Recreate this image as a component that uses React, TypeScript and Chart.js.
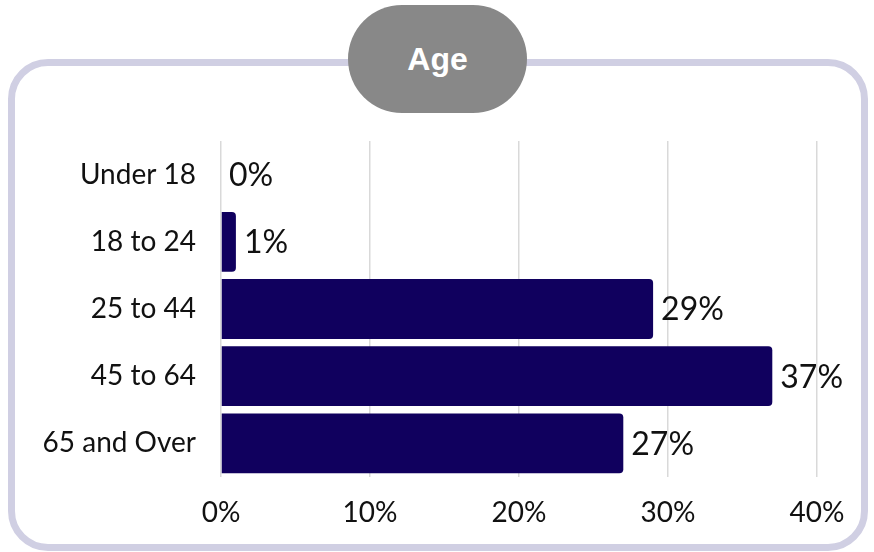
import React, { useEffect, useRef } from "react";
import { Chart, registerables } from "chart.js";

Chart.register(...registerables);

const categories = ["Under 18", "18 to 24", "25 to 44", "45 to 64", "65 and Over"];
const values = [0, 1, 29, 37, 27];
const tickValues = [0, 10, 20, 30, 40];
const title = "Age";

const FONT = "Lato, 'Noto Sans', sans-serif";

const dataLabelPlugin = {
  id: "dataLabels",
  afterDatasetsDraw(chart: any) {
    const ctx = chart.ctx;
    const meta = chart.getDatasetMeta(0);
    ctx.save();
    ctx.font = `32px ${FONT}`;
    ctx.fillStyle = "#111111";
    ctx.textAlign = "left";
    ctx.textBaseline = "middle";
    meta.data.forEach((bar: any, i: number) => {
      ctx.fillText(`${values[i]}%`, bar.x + 8, bar.y + 1);
    });
    ctx.restore();
  },
};

export default function App() {
  const ref = useRef<HTMLCanvasElement>(null);
  useEffect(() => {
    document.body.style.margin = "0";
    if (!ref.current) return;
    const chart = new Chart(ref.current, {
      type: "bar",
      data: {
        labels: categories,
        datasets: [
          {
            data: values,
            backgroundColor: "#10005e",
            borderRadius: 4,
            barPercentage: 0.89,
            categoryPercentage: 1,
          },
        ],
      },
      options: {
        indexAxis: "y",
        animation: false,
        responsive: false,
        devicePixelRatio: 1,
        layout: { padding: { top: 141, right: 57, bottom: 0, left: 0 } },
        plugins: { legend: { display: false }, tooltip: { enabled: false } },
        scales: {
          x: {
            min: 0,
            max: 40,
            afterFit: (s: any) => {
              s.height = 75;
            },
            afterBuildTicks: (s: any) => {
              s.ticks = tickValues.map((v) => ({ value: v }));
            },
            ticks: {
              padding: 19,
              color: "#111111",
              font: { family: FONT, size: 28 },
              callback: (v: any) => `${v}%`,
            },
            grid: { color: "#d9d9d9", lineWidth: 1.5, drawTicks: false },
            border: { display: false },
          },
          y: {
            afterFit: (s: any) => {
              s.width = 221;
            },
            ticks: {
              padding: 25,
              color: "#111111",
              font: { family: FONT, size: 28 },
            },
            grid: { display: false, drawTicks: false },
            border: { display: false },
          },
        },
      },
      plugins: [dataLabelPlugin],
    });
    return () => chart.destroy();
  }, []);

  return (
    <div style={{ position: "fixed", left: 0, top: 0, width: 874, height: 552, background: "#fff", overflow: "hidden" }}>
      <div
        style={{
          position: "absolute",
          left: 8,
          top: 59,
          width: 860,
          height: 492,
          border: "7.5px solid #d0cfe3",
          borderRadius: 40,
          boxSizing: "border-box",
        }}
      />
      <canvas ref={ref} width={874} height={552} style={{ position: "absolute", left: 0, top: 0, width: 874, height: 552 }} />
      <div
        style={{
          position: "absolute",
          left: 348,
          top: 5,
          width: 179,
          height: 108,
          borderRadius: 54,
          background: "#888888",
          color: "#ffffff",
          fontFamily: "'Liberation Sans', Arial, sans-serif",
          fontWeight: "bold",
          fontSize: 32,
          display: "flex",
          alignItems: "center",
          justifyContent: "center",
        }}
      >
        {title}
      </div>
    </div>
  );
}
